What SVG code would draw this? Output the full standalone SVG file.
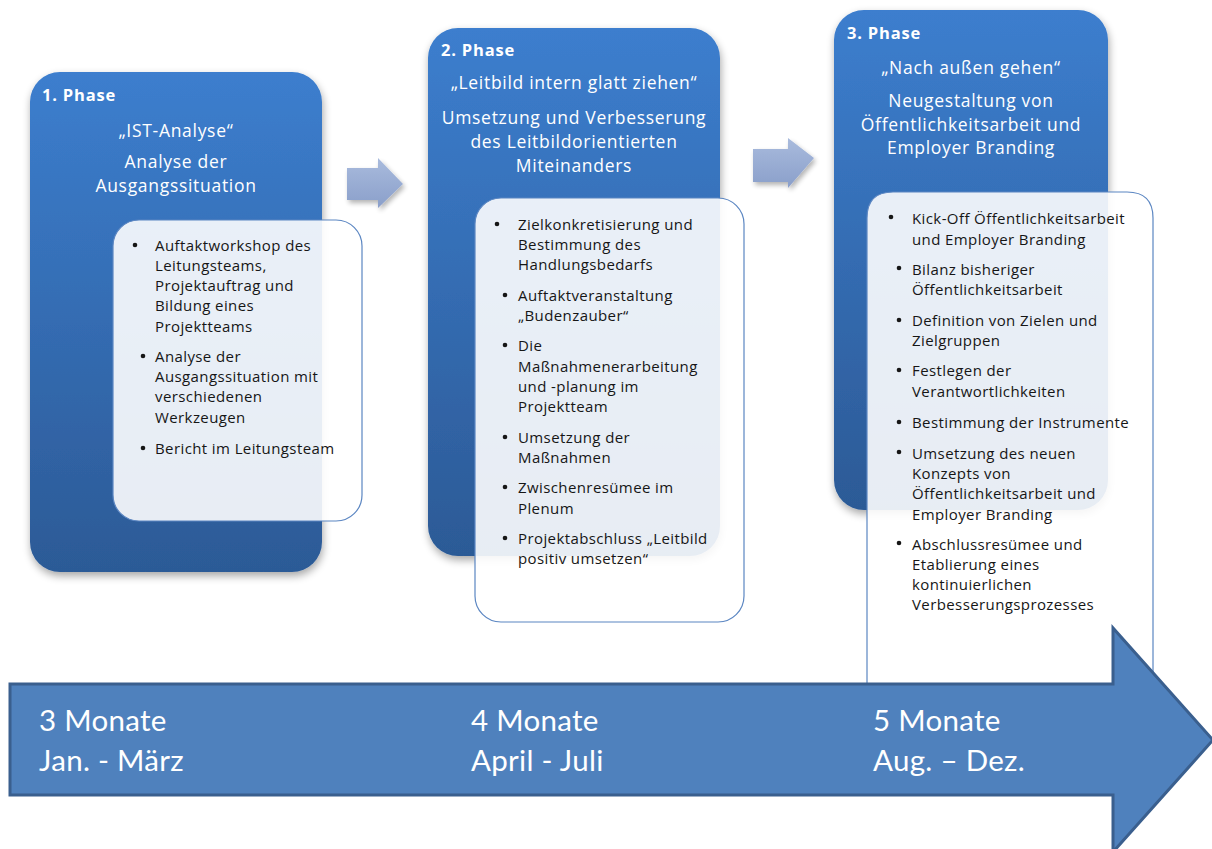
<svg xmlns="http://www.w3.org/2000/svg" width="1212" height="849" viewBox="0 0 1212 849">
  <defs>
    <linearGradient id="phaseFill" x1="0" y1="0" x2="0" y2="1">
      <stop offset="0" stop-color="#3C7ECE"/>
      <stop offset="1" stop-color="#2C5A96"/>
    </linearGradient>
    <linearGradient id="stepFill" x1="0" y1="0" x2="0" y2="1">
      <stop offset="0" stop-color="#A9BBDD"/>
      <stop offset="1" stop-color="#8A9FCA"/>
    </linearGradient>
    <filter id="shadow" x="-10%" y="-10%" width="130%" height="130%">
      <feGaussianBlur in="SourceAlpha" stdDeviation="4"/>
      <feOffset dx="1" dy="4" result="b"/>
      <feComponentTransfer><feFuncA type="linear" slope="0.35"/></feComponentTransfer>
      <feMerge><feMergeNode/><feMergeNode in="SourceGraphic"/></feMerge>
    </filter>
    <filter id="softShadow" x="-20%" y="-20%" width="150%" height="150%">
      <feGaussianBlur in="SourceAlpha" stdDeviation="2.5"/>
      <feOffset dx="2" dy="3"/>
      <feComponentTransfer><feFuncA type="linear" slope="0.3"/></feComponentTransfer>
      <feMerge><feMergeNode/><feMergeNode in="SourceGraphic"/></feMerge>
    </filter>
  </defs>
  <style>
    .phase { fill: url(#phaseFill); }
    .card { fill: #FFFFFF; fill-opacity: 0.89; stroke: #5B86C2; stroke-width: 1.2; }
    .head { font-family: "Open Sans", Lato, sans-serif; font-weight: bold; font-size: 16.5px; letter-spacing: 0.8px; fill: #FFFFFF; }
    .sub { font-family: "Open Sans", Lato, sans-serif; font-size: 17.5px; letter-spacing: 0.7px; fill: #FFFFFF; text-anchor: middle; }
    .item { font-family: "Open Sans", Lato, sans-serif; font-size: 15px; letter-spacing: 0.4px; fill: #161616; }
    .dot { fill: #161616; }
    .time { font-family: Lato, "Open Sans", sans-serif; font-size: 29.5px; letter-spacing: 0.3px; fill: #FFFFFF; }
    .step { fill: url(#stepFill); }
  </style>

  <rect width="1212" height="849" fill="#FFFFFF"/>

  <!-- Phase 1 -->
  <g id="phase1">
    <rect class="phase" x="30" y="72" width="292" height="500" rx="30" filter="url(#shadow)"/>
    <text class="head" x="42" y="101">1. Phase</text>
    <text class="sub" x="176" y="137">„IST-Analyse“</text>
    <text class="sub" x="176" y="168">Analyse der</text>
    <text class="sub" x="176" y="192">Ausgangssituation</text>
  </g>

  <!-- Phase 2 -->
  <g id="phase2">
    <rect class="phase" x="428" y="28" width="292" height="528" rx="30" filter="url(#shadow)"/>
    <text class="head" x="441" y="56">2. Phase</text>
    <text class="sub" x="574" y="89">„Leitbild  intern glatt ziehen“</text>
    <text class="sub" x="574" y="124">Umsetzung und Verbesserung</text>
    <text class="sub" x="574" y="148">des Leitbildorientierten</text>
    <text class="sub" x="574" y="172">Miteinanders</text>
  </g>

  <!-- Phase 3 -->
  <g id="phase3">
    <rect class="phase" x="834" y="10" width="274" height="500" rx="30" filter="url(#shadow)"/>
    <text class="head" x="847" y="39">3. Phase</text>
    <text class="sub" x="971" y="74">„Nach außen gehen“</text>
    <text class="sub" x="971" y="107">Neugestaltung von</text>
    <text class="sub" x="971" y="131">Öffentlichkeitsarbeit und</text>
    <text class="sub" x="971" y="154">Employer Branding</text>
  </g>

  <!-- Task cards -->
  <g id="card1">
    <rect class="card" x="113" y="220" width="249" height="301" rx="26"/>
    <circle class="dot" cx="135" cy="245" r="2.3"/>
    <circle class="dot" cx="143" cy="356" r="2.3"/>
    <circle class="dot" cx="143" cy="448" r="2.3"/>
    <g class="item">
      <text x="155" y="251">Auftaktworkshop des</text>
      <text x="155" y="271">Leitungsteams,</text>
      <text x="155" y="291">Projektauftrag und</text>
      <text x="155" y="311">Bildung eines</text>
      <text x="155" y="332">Projektteams</text>
      <text x="155" y="362">Analyse der</text>
      <text x="155" y="382">Ausgangssituation mit</text>
      <text x="155" y="402">verschiedenen</text>
      <text x="155" y="423">Werkzeugen</text>
      <text x="155" y="454">Bericht im Leitungsteam</text>
    </g>
  </g>

  <g id="card2">
    <rect class="card" x="475" y="198" width="269" height="424" rx="26"/>
    <circle class="dot" cx="497" cy="224" r="2.3"/>
    <circle class="dot" cx="505" cy="295" r="2.3"/>
    <circle class="dot" cx="505" cy="345" r="2.3"/>
    <circle class="dot" cx="505" cy="437" r="2.3"/>
    <circle class="dot" cx="505" cy="487" r="2.3"/>
    <circle class="dot" cx="505" cy="538" r="2.3"/>
    <g class="item">
      <text x="518" y="230">Zielkonkretisierung und</text>
      <text x="518" y="250">Bestimmung des</text>
      <text x="518" y="270">Handlungsbedarfs</text>
      <text x="518" y="301">Auftaktveranstaltung</text>
      <text x="518" y="321">„Budenzauber“</text>
      <text x="518" y="351">Die</text>
      <text x="518" y="372">Maßnahmenerarbeitung</text>
      <text x="518" y="392">und -planung im</text>
      <text x="518" y="412">Projektteam</text>
      <text x="518" y="443">Umsetzung der</text>
      <text x="518" y="463">Maßnahmen</text>
      <text x="518" y="493">Zwischenresümee im</text>
      <text x="518" y="514">Plenum</text>
      <text x="518" y="544">Projektabschluss „Leitbild</text>
      <text x="518" y="564">positiv umsetzen“</text>
    </g>
  </g>

  <g id="card3">
    <path class="card" d="M867,700 L867,218 Q867,192 893,192 L1127,192 Q1153,192 1153,218 L1153,700 Z"/>
    <circle class="dot" cx="891" cy="217" r="2.3"/>
    <circle class="dot" cx="899" cy="268" r="2.3"/>
    <circle class="dot" cx="899" cy="320" r="2.3"/>
    <circle class="dot" cx="899" cy="370" r="2.3"/>
    <circle class="dot" cx="899" cy="422" r="2.3"/>
    <circle class="dot" cx="899" cy="452" r="2.3"/>
    <circle class="dot" cx="899" cy="543" r="2.3"/>
    <g class="item">
      <text x="912" y="224">Kick-Off Öffentlichkeitsarbeit</text>
      <text x="912" y="245">und Employer Branding</text>
      <text x="912" y="275">Bilanz bisheriger</text>
      <text x="912" y="295">Öffentlichkeitsarbeit</text>
      <text x="912" y="326">Definition von Zielen und</text>
      <text x="912" y="346">Zielgruppen</text>
      <text x="912" y="376">Festlegen der</text>
      <text x="912" y="397">Verantwortlichkeiten</text>
      <text x="912" y="428">Bestimmung der Instrumente</text>
      <text x="912" y="459">Umsetzung des neuen</text>
      <text x="912" y="479">Konzepts von</text>
      <text x="912" y="499">Öffentlichkeitsarbeit und</text>
      <text x="912" y="520">Employer Branding</text>
      <text x="912" y="550">Abschlussresümee und</text>
      <text x="912" y="570">Etablierung eines</text>
      <text x="912" y="590">kontinuierlichen</text>
      <text x="912" y="610">Verbesserungsprozesses</text>
    </g>
  </g>

  <!-- Connectors between phases and the timeline -->
  <g id="connectors">
    <path class="step" d="M347,168 L378,168 L378,158 L403,184 L378,208 L378,200 L347,200 Z" filter="url(#softShadow)"/>
    <path class="step" d="M753,149 L788,149 L788,138 L814,158 L788,188 L788,182 L753,182 Z" filter="url(#softShadow)"/>
    <path d="M10,684 L1113,684 L1113,628 L1213,740 L1113,852 L1113,795 L10,795 Z" fill="#4F81BD" stroke="#3A5F8E" stroke-width="3" stroke-linejoin="miter"/>
  </g>

  <g id="timeline">
    <text class="time" x="39" y="731">3 Monate</text>
    <text class="time" x="39" y="771">Jan. - März</text>
    <text class="time" x="471" y="731">4 Monate</text>
    <text class="time" x="471" y="771">April - Juli</text>
    <text class="time" x="873" y="731">5 Monate</text>
    <text class="time" x="873" y="771">Aug. – Dez.</text>
  </g>
</svg>
